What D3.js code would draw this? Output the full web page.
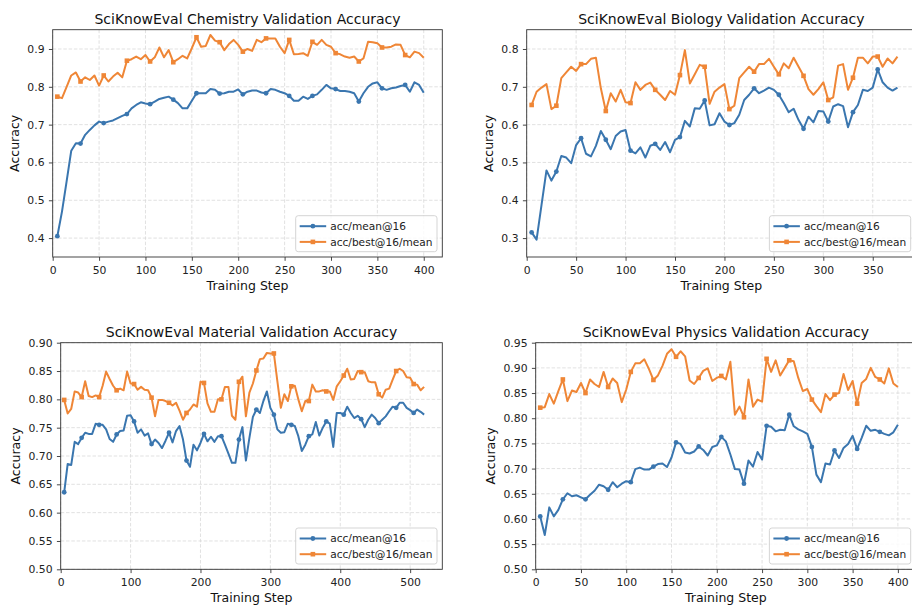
<!DOCTYPE html>
<html>
<head>
<meta charset="utf-8">
<script src="https://cdn.jsdelivr.net/npm/d3@7"></script>
<style>
body { margin: 0; background: #fff; }
svg { display: block; font-family: "DejaVu Sans", sans-serif; }
</style>
</head>
<body>
<div></div>
<script>
var width = 912;
var height = 606;

// training steps (every 5 steps)
var chemSteps = d3.range(5, 405, 5);
var bioSteps = d3.range(5, 380, 5);
var matSteps = d3.range(5, 525, 5);
var phySteps = d3.range(5, 405, 5);

var chemMean = [
	0.405, 0.47, 0.55, 0.631, 0.651, 0.650, 0.673, 0.686, 0.698, 0.708,
	0.704, 0.708, 0.711, 0.717, 0.723, 0.728, 0.743, 0.752, 0.759, 0.756,
	0.754, 0.761, 0.768, 0.771, 0.774, 0.766, 0.757, 0.743, 0.743, 0.763,
	0.783, 0.783, 0.783, 0.794, 0.792, 0.782, 0.783, 0.787, 0.787, 0.793,
	0.780, 0.787, 0.790, 0.790, 0.785, 0.783, 0.794, 0.792, 0.787, 0.783,
	0.776, 0.763, 0.763, 0.774, 0.768, 0.776, 0.780, 0.792, 0.805, 0.796,
	0.794, 0.789, 0.789, 0.787, 0.783, 0.761, 0.783, 0.800, 0.809, 0.812,
	0.796, 0.792, 0.796, 0.798, 0.802, 0.805, 0.787, 0.812, 0.805, 0.784
];
var chemBest = [
	0.774, 0.770, 0.800, 0.830, 0.838, 0.814, 0.825, 0.818, 0.830, 0.803,
	0.830, 0.814, 0.827, 0.837, 0.825, 0.869, 0.873, 0.880, 0.873, 0.884,
	0.867, 0.878, 0.904, 0.878, 0.897, 0.865, 0.873, 0.882, 0.875, 0.902,
	0.931, 0.906, 0.908, 0.937, 0.922, 0.918, 0.897, 0.913, 0.924, 0.911,
	0.893, 0.900, 0.895, 0.924, 0.918, 0.928, 0.928, 0.928, 0.906, 0.889,
	0.924, 0.886, 0.887, 0.889, 0.882, 0.919, 0.911, 0.924, 0.911, 0.906,
	0.889, 0.886, 0.880, 0.877, 0.880, 0.867, 0.875, 0.919, 0.918, 0.915,
	0.904, 0.904, 0.906, 0.912, 0.911, 0.884, 0.878, 0.893, 0.889, 0.877
];

var bioMean = [
	0.315, 0.296, 0.388, 0.479, 0.452, 0.476, 0.517, 0.513, 0.498, 0.546,
	0.564, 0.523, 0.516, 0.544, 0.583, 0.560, 0.535, 0.570, 0.582, 0.586,
	0.531, 0.524, 0.540, 0.513, 0.544, 0.549, 0.533, 0.554, 0.527, 0.560,
	0.567, 0.610, 0.595, 0.643, 0.642, 0.664, 0.598, 0.601, 0.630, 0.608,
	0.599, 0.604, 0.626, 0.665, 0.679, 0.696, 0.683, 0.690, 0.698, 0.692,
	0.679, 0.657, 0.633, 0.642, 0.612, 0.589, 0.621, 0.606, 0.636, 0.635,
	0.608, 0.648, 0.654, 0.649, 0.593, 0.633, 0.652, 0.692, 0.689, 0.698,
	0.746, 0.712, 0.698, 0.690, 0.698
];
var bioBest = [
	0.652, 0.687, 0.698, 0.707, 0.641, 0.650, 0.723, 0.738, 0.753, 0.742,
	0.760, 0.760, 0.774, 0.777, 0.696, 0.636, 0.683, 0.661, 0.692, 0.659,
	0.657, 0.712, 0.692, 0.705, 0.711, 0.692, 0.679, 0.665, 0.689, 0.679,
	0.731, 0.797, 0.709, 0.733, 0.758, 0.753, 0.655, 0.687, 0.698, 0.707,
	0.641, 0.650, 0.723, 0.738, 0.753, 0.740, 0.760, 0.760, 0.774, 0.753,
	0.733, 0.762, 0.749, 0.777, 0.753, 0.729, 0.694, 0.679, 0.694, 0.712,
	0.665, 0.672, 0.756, 0.760, 0.692, 0.724, 0.777, 0.777, 0.762, 0.780,
	0.780, 0.753, 0.775, 0.762, 0.780
];

var matMean = [
	0.636, 0.686, 0.684, 0.725, 0.721, 0.732, 0.741, 0.739, 0.739, 0.757,
	0.755, 0.755, 0.747, 0.730, 0.725, 0.738, 0.744, 0.745, 0.771, 0.772,
	0.761, 0.741, 0.747, 0.736, 0.740, 0.721, 0.729, 0.723, 0.714, 0.727,
	0.741, 0.724, 0.744, 0.753, 0.729, 0.692, 0.681, 0.720, 0.710, 0.723,
	0.739, 0.726, 0.734, 0.725, 0.735, 0.735, 0.720, 0.704, 0.688, 0.688,
	0.729, 0.751, 0.692, 0.732, 0.769, 0.782, 0.776, 0.797, 0.814, 0.785,
	0.773, 0.747, 0.741, 0.742, 0.757, 0.755, 0.753, 0.735, 0.709, 0.720,
	0.735, 0.738, 0.760, 0.736, 0.750, 0.761, 0.757, 0.716, 0.776, 0.776,
	0.773, 0.787, 0.776, 0.767, 0.771, 0.765, 0.751, 0.764, 0.773, 0.767,
	0.758, 0.764, 0.770, 0.779, 0.787, 0.785, 0.794, 0.794, 0.785, 0.781,
	0.776, 0.782, 0.778, 0.773
];
var matBest = [
	0.799, 0.775, 0.783, 0.814, 0.812, 0.804, 0.832, 0.806, 0.804, 0.807,
	0.804, 0.824, 0.849, 0.836, 0.824, 0.816, 0.819, 0.816, 0.849, 0.828,
	0.827, 0.817, 0.822, 0.817, 0.816, 0.803, 0.770, 0.799, 0.799, 0.797,
	0.794, 0.789, 0.794, 0.780, 0.764, 0.776, 0.782, 0.791, 0.787, 0.831,
	0.829, 0.793, 0.778, 0.778, 0.800, 0.800, 0.822, 0.822, 0.771, 0.764,
	0.831, 0.840, 0.770, 0.812, 0.828, 0.851, 0.871, 0.872, 0.882, 0.881,
	0.881, 0.832, 0.785, 0.809, 0.797, 0.823, 0.824, 0.800, 0.779, 0.797,
	0.797, 0.826, 0.814, 0.814, 0.816, 0.814, 0.814, 0.799, 0.823, 0.832,
	0.842, 0.854, 0.835, 0.836, 0.850, 0.848, 0.848, 0.832, 0.830, 0.830,
	0.809, 0.803, 0.817, 0.819, 0.835, 0.850, 0.854, 0.850, 0.839, 0.838,
	0.827, 0.826, 0.816, 0.822
];

var phyMean = [
	0.605, 0.568, 0.623, 0.605, 0.618, 0.639, 0.651, 0.645, 0.647, 0.643,
	0.639, 0.648, 0.656, 0.668, 0.665, 0.658, 0.673, 0.663, 0.670, 0.675,
	0.673, 0.699, 0.702, 0.698, 0.698, 0.704, 0.709, 0.710, 0.703, 0.722,
	0.752, 0.749, 0.732, 0.730, 0.734, 0.744, 0.737, 0.726, 0.743, 0.746,
	0.763, 0.754, 0.728, 0.699, 0.698, 0.670, 0.716, 0.704, 0.733, 0.718,
	0.785, 0.783, 0.774, 0.777, 0.776, 0.807, 0.784, 0.778, 0.774, 0.769,
	0.743, 0.688, 0.673, 0.710, 0.708, 0.736, 0.721, 0.741, 0.749, 0.765,
	0.739, 0.761, 0.785, 0.775, 0.777, 0.773, 0.769, 0.766, 0.772, 0.787
];
var phyBest = [
	0.821, 0.822, 0.848, 0.829, 0.854, 0.877, 0.834, 0.855, 0.852, 0.870,
	0.850, 0.877, 0.868, 0.862, 0.892, 0.862, 0.879, 0.870, 0.832, 0.857,
	0.892, 0.909, 0.909, 0.917, 0.898, 0.876, 0.885, 0.904, 0.928, 0.937,
	0.922, 0.933, 0.923, 0.875, 0.868, 0.880, 0.894, 0.899, 0.874, 0.880,
	0.884, 0.877, 0.912, 0.807, 0.823, 0.802, 0.877, 0.823, 0.837, 0.833,
	0.918, 0.892, 0.915, 0.885, 0.900, 0.915, 0.913, 0.880, 0.854, 0.858,
	0.837, 0.824, 0.812, 0.848, 0.836, 0.847, 0.850, 0.888, 0.856, 0.874,
	0.829, 0.870, 0.878, 0.900, 0.882, 0.877, 0.869, 0.899, 0.869, 0.862
];

// tick labels
var xTicks400 = [0, 50, 100, 150, 200, 250, 300, 350, 400];
var xTicks350 = [0, 50, 100, 150, 200, 250, 300, 350];
var xTicks500 = [0, 100, 200, 300, 400, 500];
var yTicksChem = [0.4, 0.5, 0.6, 0.7, 0.8, 0.9];
var yTicksBio = [0.3, 0.4, 0.5, 0.6, 0.7, 0.8];
var yTicksMat = [0.50, 0.55, 0.60, 0.65, 0.70, 0.75, 0.80, 0.85, 0.90];
var yTicksPhy = [0.50, 0.55, 0.60, 0.65, 0.70, 0.75, 0.80, 0.85, 0.90, 0.95];

var seriesNames = ["acc/mean@16", "acc/best@16/mean"];
var blue = "#3a76af";
var orange = "#ef8636";

var svg = d3.select("div")
	.append("svg")
	.attr("width", width)
	.attr("height", height)
	.style("overflow", "hidden");

var panels = [
	{ title: "SciKnowEval Chemistry Validation Accuracy", steps: chemSteps, mean: chemMean, best: chemBest,
		left: 52.7, right: 442.3, top: 29.7, bottom: 257, xMax: 420, yMin: 0.35, yMax: 0.951,
		xTicks: xTicks400, yTicks: yTicksChem, fmt: ".1f" },
	{ title: "SciKnowEval Biology Validation Accuracy", steps: bioSteps, mean: bioMean, best: bioBest,
		left: 526.7, right: 916, top: 29.7, bottom: 257, xMax: 393.75, yMin: 0.25, yMax: 0.851,
		xTicks: xTicks350, yTicks: yTicksBio, fmt: ".1f" },
	{ title: "SciKnowEval Material Validation Accuracy", steps: matSteps, mean: matMean, best: matBest,
		left: 60.7, right: 442.3, top: 342.7, bottom: 569.3, xMax: 546, yMin: 0.5, yMax: 0.9,
		xTicks: xTicks500, yTicks: yTicksMat, fmt: ".2f" },
	{ title: "SciKnowEval Physics Validation Accuracy", steps: phySteps, mean: phyMean, best: phyBest,
		left: 535.7, right: 916, top: 342.7, bottom: 569.3, xMax: 420, yMin: 0.5, yMax: 0.95,
		xTicks: xTicks400, yTicks: yTicksPhy, fmt: ".2f" }
];

var drawPanel = (p) => {
	var x = d3.scaleLinear().domain([0, p.xMax]).range([p.left, p.right]);
	var y = d3.scaleLinear().domain([p.yMin, p.yMax]).range([p.bottom, p.top]);
	var g = svg.append("g");

	// grid
	g.append("g").selectAll("line")
		.data(p.xTicks)
		.enter()
		.append("line")
		.attr("x1", d => x(d)).attr("x2", d => x(d))
		.attr("y1", p.top).attr("y2", p.bottom)
		.attr("stroke", "#d9d9d9").attr("stroke-width", 0.8)
		.attr("stroke-dasharray", "3.5,1.8");
	g.append("g").selectAll("line")
		.data(p.yTicks)
		.enter()
		.append("line")
		.attr("x1", p.left).attr("x2", p.right)
		.attr("y1", d => y(d)).attr("y2", d => y(d))
		.attr("stroke", "#d9d9d9").attr("stroke-width", 0.8)
		.attr("stroke-dasharray", "3.5,1.8");

	// axes
	var xAxis = g.append("g")
		.attr("transform", "translate(0," + p.bottom + ")")
		.call(d3.axisBottom(x).tickValues(p.xTicks).tickFormat(d3.format("d")).tickSize(3.8).tickPadding(5.2));
	var yAxis = g.append("g")
		.attr("transform", "translate(" + p.left + ",0)")
		.call(d3.axisLeft(y).tickValues(p.yTicks).tickFormat(d3.format(p.fmt)).tickSize(3.8).tickPadding(4.4));
	[xAxis, yAxis].forEach(a => {
		a.select(".domain").remove();
		a.selectAll("line").attr("stroke", "#333").attr("stroke-width", 0.9);
		a.selectAll("text").attr("fill", "#222").attr("font-size", 10.8).attr("font-family", "DejaVu Sans");
	});

	// spines
	g.append("rect")
		.attr("x", p.left).attr("y", p.top)
		.attr("width", p.right - p.left).attr("height", p.bottom - p.top)
		.attr("fill", "none").attr("stroke", "#333").attr("stroke-width", 0.9);

	// lines
	var series = [
		{ values: p.mean, color: blue, shape: "circle" },
		{ values: p.best, color: orange, shape: "square" }
	];
	var line = d3.line().x((d, i) => x(p.steps[i])).y(d => y(d));
	series.forEach(s => {
		g.append("path")
			.datum(s.values)
			.attr("d", line)
			.attr("fill", "none")
			.attr("stroke", s.color)
			.attr("stroke-width", 2)
			.attr("stroke-linejoin", "round");
		var marks = s.values.map((v, i) => ({ v: v, i: i })).filter(d => d.i % 5 === 0);
		if (s.shape === "circle") {
			g.append("g").selectAll("circle")
				.data(marks)
				.enter()
				.append("circle")
				.attr("cx", d => x(p.steps[d.i]))
				.attr("cy", d => y(d.v))
				.attr("r", 2.4)
				.attr("fill", s.color);
		} else {
			g.append("g").selectAll("rect")
				.data(marks)
				.enter()
				.append("rect")
				.attr("x", d => x(p.steps[d.i]) - 2.3)
				.attr("y", d => y(d.v) - 2.3)
				.attr("width", 4.6)
				.attr("height", 4.6)
				.attr("fill", s.color);
		}
	});

	// title and labels
	g.append("text")
		.text(p.title)
		.attr("x", (p.left + p.right) / 2)
		.attr("y", p.top - 5.5)
		.attr("text-anchor", "middle")
		.attr("font-size", 14)
		.attr("fill", "#111");
	g.append("text")
		.text("Training Step")
		.attr("x", (p.left + p.right) / 2)
		.attr("y", p.bottom + 33)
		.attr("text-anchor", "middle")
		.attr("font-size", 12.5)
		.attr("fill", "#111");
	var yBox = yAxis.node().getBBox();
	var ly = (p.top + p.bottom) / 2;
	var lx = p.left + yBox.x - 8.3;
	g.append("text")
		.text("Accuracy")
		.attr("transform", "translate(" + lx + "," + ly + ") rotate(-90)")
		.attr("text-anchor", "middle")
		.attr("font-size", 12.5)
		.attr("fill", "#111");

	// legend
	var leg = g.append("g");
	var box = leg.append("rect");
	var texts = [];
	seriesNames.forEach((name, k) => {
		texts.push(leg.append("text")
			.text(name)
			.attr("font-size", 10.6)
			.attr("fill", "#222")
			.attr("dy", "0.35em"));
	});
	var tw = d3.max(texts, t => t.node().getComputedTextLength());
	var bw = tw + 39, bh = 36;
	var bx = p.right - 5.3 - bw, by = p.bottom - 5.3 - bh;
	box.attr("x", bx).attr("y", by).attr("width", bw).attr("height", bh)
		.attr("rx", 2.5)
		.attr("fill", "#fff").attr("fill-opacity", 0.8)
		.attr("stroke", "#d0d0d0").attr("stroke-width", 0.9);
	texts.forEach((t, k) => {
		var cy = by + 10.5 + k * 15.7;
		t.attr("x", bx + 34.5).attr("y", cy);
		var c = k === 0 ? blue : orange;
		leg.append("line")
			.attr("x1", bx + 4).attr("x2", bx + 30.5)
			.attr("y1", cy).attr("y2", cy)
			.attr("stroke", c).attr("stroke-width", 2);
		if (k === 0) {
			leg.append("circle").attr("cx", bx + 17.2).attr("cy", cy).attr("r", 2.4).attr("fill", c);
		} else {
			leg.append("rect").attr("x", bx + 14.9).attr("y", cy - 2.3).attr("width", 4.6).attr("height", 4.6).attr("fill", c);
		}
	});
};

panels.forEach(drawPanel);
</script>
</body>
</html>
